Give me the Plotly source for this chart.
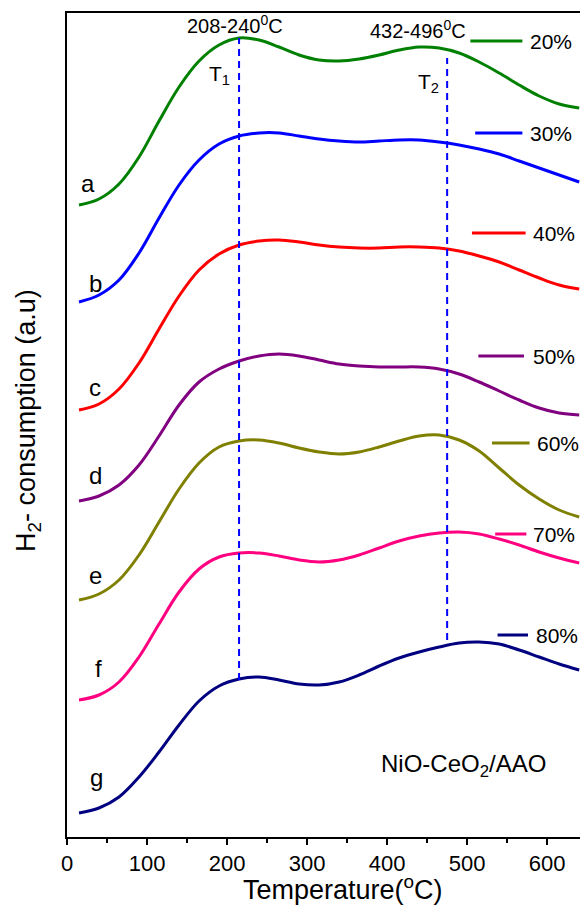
import plotly.graph_objects as go

# Temperature grid (°C)
temperature = [15, 40, 65, 90, 115, 140, 165, 190, 215, 240, 265, 290, 315, 340,
               365, 390, 415, 440, 465, 490, 515, 540, 565, 590, 615, 640]

# H2 consumption (a.u., offset-stacked curves)
curve_a = [632, 638, 653, 680, 716, 750, 776, 792, 799, 797, 790, 782, 777, 776,
           778, 782, 787, 790, 789, 784, 775, 764, 752, 741, 733, 729]
curve_b = [535, 542, 557, 584, 619, 652, 677, 693, 701, 704, 704, 701, 698, 696,
           695, 696, 697, 697, 695, 692, 688, 683, 676, 669, 662, 655]
curve_c = [427, 433, 448, 474, 508, 541, 567, 583, 592, 596, 597, 595, 592, 590,
           589, 589, 590, 590, 589, 586, 581, 575, 567, 559, 552, 548]
curve_d = [336, 341, 352, 372, 401, 432, 455, 468, 476, 481, 483, 481, 477, 473,
           471, 470, 470, 470, 468, 463, 455, 446, 437, 429, 424, 422]
curve_e = [237, 243, 257, 282, 315, 348, 374, 390, 396, 397, 394, 389, 385, 383,
           385, 390, 396, 401, 402, 397, 386, 369, 352, 338, 327, 320]
curve_f = [137, 142, 155, 180, 213, 245, 268, 280, 284, 284, 281, 277, 275, 277,
           282, 289, 296, 301, 304, 305, 303, 298, 292, 285, 279, 274]
curve_g = [24, 29, 40, 60, 85, 112, 136, 151, 158, 160, 157, 153, 152, 155,
           162, 171, 179, 185, 190, 194, 195, 193, 187, 180, 173, 167]

series = [curve_a, curve_b, curve_c, curve_d, curve_e, curve_f, curve_g]
letters = ["a", "b", "c", "d", "e", "f", "g"]
loadings = ["20%", "30%", "40%", "50%", "60%", "70%", "80%"]
colors = ["#008000", "#0000FF", "#FF0000", "#800080", "#808000", "#FF0080", "#000080"]

x_ticks = [0, 100, 200, 300, 400, 500, 600]
peak_T1 = 215
peak_T2 = 475

FONT = "Arial, Liberation Sans, sans-serif"

fig = go.Figure()
for ys, name, col in zip(series, loadings, colors):
    fig.add_trace(go.Scatter(x=temperature, y=ys, mode="lines", name=name,
                             line=dict(color=col, width=3, shape="spline", smoothing=1.0),
                             showlegend=False, hoverinfo="skip"))

shapes = []
# dashed guide lines for T1 and T2
shapes.append(dict(type="line", xref="x", yref="y", x0=peak_T1, x1=peak_T1, y0=157, y1=799,
                   line=dict(color="#0000FF", width=2, dash="7px,5px")))
shapes.append(dict(type="line", xref="x", yref="y", x0=peak_T2, x1=peak_T2, y0=197, y1=779,
                   line=dict(color="#0000FF", width=2, dash="7px,5px")))

# legend keys (line segment + label)
key_x0 = [504, 510, 506, 514, 531, 535, 538]
key_x1 = [569, 569, 573, 571, 578, 574, 576]
key_y = [796, 704, 604, 481, 394, 303, 202]
text_x = [576, 576, 580, 580, 585, 580, 584]
for x0, x1, yk, col in zip(key_x0, key_x1, key_y, colors):
    shapes.append(dict(type="line", xref="x", yref="y", x0=x0, x1=x1, y0=yk, y1=yk,
                       line=dict(color=col, width=3)))

annotations = []
for tx, yk, lab in zip(text_x, key_y, loadings):
    annotations.append(dict(x=tx, y=yk, xref="x", yref="y", text=lab, showarrow=False,
                            xanchor="left", yanchor="middle", font=dict(size=21, color="black")))

letter_x = [26, 35, 35, 36, 36, 39, 37]
letter_y = [654, 554, 450, 362, 262, 169, 60]
for lx, ly, lt in zip(letter_x, letter_y, letters):
    annotations.append(dict(x=lx, y=ly, xref="x", yref="y", text=lt, showarrow=False,
                            xanchor="center", yanchor="middle", font=dict(size=24, color="black")))

annotations += [
    dict(x=210, y=813, xref="x", yref="y", text="208-240<sup>0</sup>C", showarrow=False,
         xanchor="center", yanchor="middle", font=dict(size=20, color="black")),
    dict(x=439, y=808, xref="x", yref="y", text="432-496<sup>0</sup>C", showarrow=False,
         xanchor="center", yanchor="middle", font=dict(size=20, color="black")),
    dict(x=191, y=762, xref="x", yref="y", text="T<sub>1</sub>", showarrow=False,
         xanchor="center", yanchor="middle", font=dict(size=21, color="black")),
    dict(x=452, y=754, xref="x", yref="y", text="T<sub>2</sub>", showarrow=False,
         xanchor="center", yanchor="middle", font=dict(size=21, color="black")),
    dict(x=495, y=72, xref="x", yref="y", text="NiO-CeO<sub>2</sub>/AAO", showarrow=False,
         xanchor="center", yanchor="middle", font=dict(size=24, color="black")),
    dict(x=0.538, y=-0.062, xref="paper", yref="paper", text="Temperature(<sup>o</sup>C)",
         showarrow=False, xanchor="center", yanchor="middle", font=dict(size=27, color="black")),
    dict(x=-0.076, y=0.505, xref="paper", yref="paper", text="H<sub>2</sub>- consumption (a.u)",
         showarrow=False, xanchor="center", yanchor="middle", textangle=-90,
         font=dict(size=27, color="black")),
]

fig.update_layout(
    width=580, height=908,
    margin=dict(l=67, r=0, t=13, b=71, autoexpand=False),
    paper_bgcolor="white", plot_bgcolor="white",
    font=dict(family=FONT, color="black"),
    shapes=shapes, annotations=annotations,
    xaxis=dict(range=[0, 641], tickvals=x_ticks, ticks="outside", ticklen=6, tickwidth=2,
               tickcolor="black", tickfont=dict(size=22, color="black"),
               minor=dict(dtick=50, tick0=0, ticks="outside", ticklen=4, tickwidth=2,
                          tickcolor="black"),
               showline=True, linecolor="black", linewidth=2, mirror=True,
               showgrid=False, zeroline=False),
    yaxis=dict(range=[0, 824], showticklabels=False, ticks="", showline=True,
               linecolor="black", linewidth=2, showgrid=False, zeroline=False),
)

fig.write_html("out.html", config={"displayModeBar": False},
               post_script="document.body.style.margin='0';document.body.style.overflow='hidden';")
